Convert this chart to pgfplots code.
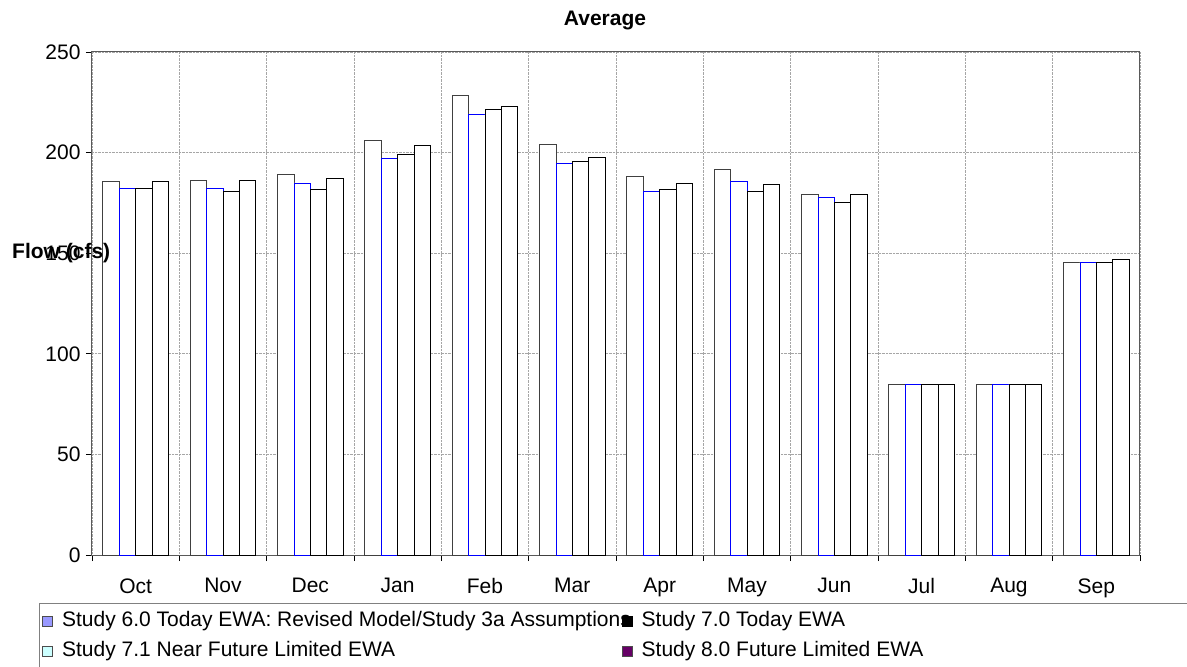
\documentclass[border=0pt]{standalone}
\usepackage{fontspec}
\setmainfont{Liberation Sans}
\usepackage{pgfplots}
\pgfplotsset{compat=1.18}
\definecolor{cA}{HTML}{9999FF}
\definecolor{cC}{HTML}{CCFFFF}
\definecolor{cD}{HTML}{660066}
\newcommand{\fs}{\fontsize{21}{25}\selectfont}
\begin{document}
\begin{tikzpicture}
\begin{axis}[name=ax, scale only axis, width=1048pt, height=503pt,
  ybar=0pt, bar width=16.4pt,
  xmin=-0.5, xmax=11.5, ymin=0, ymax=250,
  xtick={-0.5,0.5,...,11.5}, x tick label as interval,
  xticklabels={Oct,Nov,Dec,Jan,Feb,Mar,Apr,May,Jun,Jul,Aug,Sep},
  ytick={0,50,...,250},
  grid=major, major grid style={densely dotted, gray!70, line width=0.8pt},
  tick align=outside, tick pos=left, major tick length=6pt,
  tick style={black, line width=0.8pt},
  axis line style={gray!70!black, line width=1pt},
  /pgf/number format/assume math mode=true,
  ticklabel style={font=\fs},
  xticklabel style={yshift=-14pt},
  yticklabel style={xshift=-2pt},
  title={\textbf{Average}}, title style={font=\fs, at={(rel axis cs:0.4895,1)}, anchor=center, yshift=25pt},
  clip=false,
  legend columns=2,
  legend style={at={(rel axis cs:-0.0506,-0.0954)}, anchor=north west, draw=gray, line width=1pt,
    font=\fs, inner sep=3pt, column sep=0pt, row sep=0pt,
    nodes={inner xsep=2pt, inner ysep=5pt, text height=15pt, text depth=5pt}},
  legend cell align=left,
]
\addplot[fill=white, draw=black!75, line width=0.8pt,
  legend image code/.code={\draw[fill=cA, draw=gray!60!black, line width=0.6pt] (0pt,-5pt) rectangle (10pt,5pt);}]
  coordinates {(0,185.5) (1,186.4) (2,189.4) (3,206.3) (4,228.6) (5,204.3) (6,188.0) (7,191.8) (8,179.3) (9,84.8) (10,84.8) (11,145.6)};
\addlegendentry{\hspace{7pt}\makebox[558pt][l]{Study 6.0 Today EWA: Revised Model/Study 3a Assumptions}}
\addplot[fill=white, draw=blue, line width=0.8pt,
  legend image code/.code={\draw[fill=black, draw=black, line width=0.6pt] (0pt,-5pt) rectangle (10pt,5pt);}]
  coordinates {(0,182.2) (1,182.2) (2,184.9) (3,197.3) (4,219.2) (5,194.8) (6,180.8) (7,185.5) (8,177.8) (9,84.8) (10,84.8) (11,145.6)};
\addlegendentry{\hspace{7pt}\makebox[560pt][l]{Study 7.0 Today EWA}}
\addplot[fill=white, draw=black, line width=0.8pt,
  legend image code/.code={\draw[fill=cC, draw=gray!60!black, line width=0.6pt] (0pt,-5pt) rectangle (10pt,5pt);}]
  coordinates {(0,182.2) (1,180.9) (2,181.9) (3,199.3) (4,221.7) (5,195.8) (6,181.6) (7,180.8) (8,175.4) (9,84.8) (10,84.8) (11,145.6)};
\addlegendentry{\hspace{7pt}\makebox[558pt][l]{Study 7.1 Near Future Limited EWA}}
\addplot[fill=white, draw=black, line width=0.8pt,
  legend image code/.code={\draw[fill=cD, draw=gray!60!black, line width=0.6pt] (0pt,-5pt) rectangle (10pt,5pt);}]
  coordinates {(0,185.5) (1,186.2) (2,187.4) (3,203.8) (4,223.2) (5,197.8) (6,184.7) (7,184.0) (8,179.3) (9,84.8) (10,84.8) (11,147.1)};
\addlegendentry{\hspace{7pt}\makebox[560pt][l]{Study 8.0 Future Limited EWA}}
\node[anchor=west, font=\fs\bfseries, inner sep=0pt] at (rel axis cs:0,0.6004) [xshift=-80pt] {Flow (cfs)};
\end{axis}
\pgfresetboundingbox
\path[use as bounding box] (ax.south west) ++(-92pt,-112pt) rectangle ++(1187pt,667pt);
\end{tikzpicture}
\end{document}
